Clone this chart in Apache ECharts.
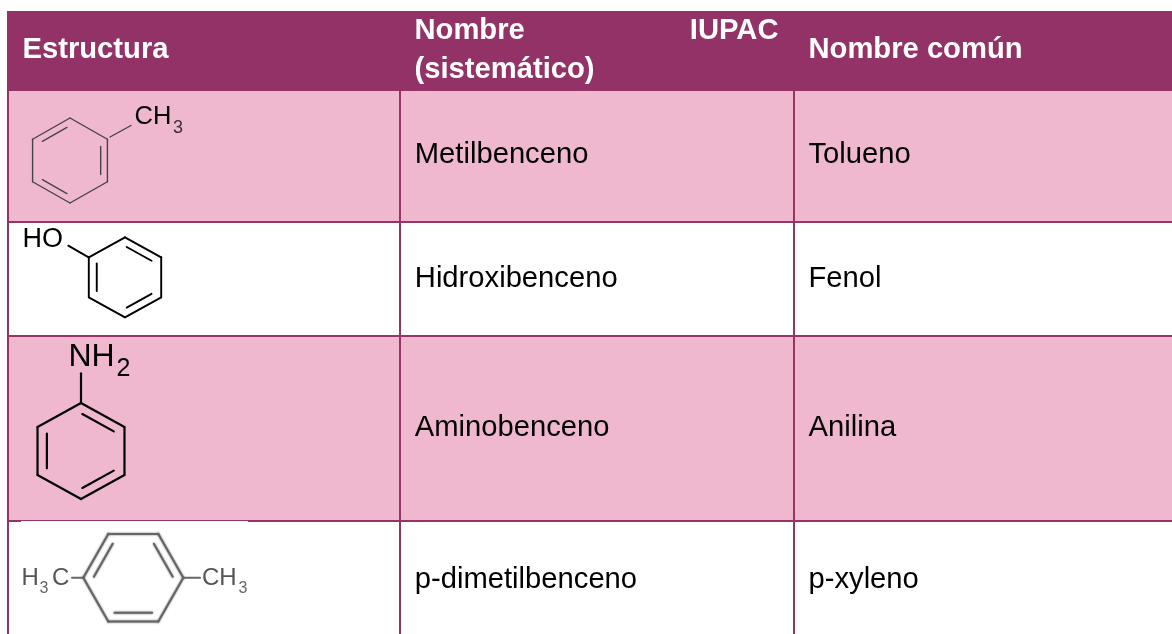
<!DOCTYPE html>
<html><head><meta charset="utf-8">
<style>html,body{margin:0;padding:0;background:#fff}#c{width:1172px;height:634px}</style>
<script src="https://cdn.jsdelivr.net/npm/echarts@6/dist/echarts.min.js"></script>
</head><body><div id="c"></div>
<script>
const headerStructure = 'Estructura';
const headerIupacWords = ['Nombre', 'IUPAC', '(sistemático)'];
const headerCommon = 'Nombre común';
const iupacNames = ['Metilbenceno', 'Hidroxibenceno', 'Aminobenceno', 'p-dimetilbenceno'];
const commonNames = ['Tolueno', 'Fenol', 'Anilina', 'p-xyleno'];
const rowIndices = [0, 1, 2, 3];

const FONT = '"Liberation Sans", Arial, sans-serif';
const WINE = '#933266', PINK = '#EFB8CF', RULE = '#993366';
const rowTop = [91, 221, 335, 520], rowBottom = [221, 335, 520, 640];
const rowFill = [PINK, '#fff', PINK, '#fff'];
const colX = [7, 399, 793], W = 1172, H = 634;
const rowTextY = [154.5, 278.5, 428, 579.6];

function txt(x, y, text, font, fill, align) {
  return {type:'text', style:{x, y, text, font, fill, align:align||'left', verticalAlign:'middle'}};
}
function seg(a, b, stroke, lw, extra) {
  return {type:'line', shape:{x1:a[0], y1:a[1], x2:b[0], y2:b[1]},
    style:Object.assign({stroke, lineWidth:lw, lineCap:'round'}, extra||{})};
}
const POINT_UP = [[0,-1],[.866,-.5],[.866,.5],[0,1],[-.866,.5],[-.866,-.5]];
const FLAT = [[-1,0],[-.5,-.866],[.5,-.866],[1,0],[.5,.866],[-.5,.866]];
function ring(m) {
  const p = m.unit.map(u => [m.cx + u[0]*m.rx, m.cy + u[1]*m.ry]);
  const out = [];
  const extra = m.blur ? {shadowBlur:m.blur, shadowColor:m.color} : null;
  p.forEach((a, i) => out.push(seg(a, p[(i+1)%6], m.color, m.lw, extra)));
  m.doubles.forEach(i => {
    const a = p[i], b = p[(i+1)%6];
    const sh = (q, r) => [q[0]+(r[0]-q[0])*m.t, q[1]+(r[1]-q[1])*m.t];
    const toC = q => [m.cx+(q[0]-m.cx)*m.k, m.cy+(q[1]-m.cy)*m.k];
    out.push(seg(toC(sh(a,b)), toC(sh(b,a)), m.color, m.lw, extra));
  });
  return out;
}
const molecules = [
  () => [...ring({cx:70,cy:160.5,rx:43.2,ry:42.5,unit:POINT_UP,doubles:[5,1,3],k:.82,t:.1,color:'#444',lw:1.4}),
    seg([110,137],[131,125.5],'#444',1.4),
    txt(134.5,117.3,'CH','25.5px '+FONT,'#000'), txt(173,128.2,'3','18px '+FONT,'#333')],
  () => [...ring({cx:125,cy:277.3,rx:41.8,ry:40,unit:POINT_UP,doubles:[0,2,4],k:.78,t:.06,color:'#000',lw:1.9}),
    seg([68.3,245.7],[88.7,257.3],'#000',1.9),
    txt(22.5,239.2,'HO','27px '+FONT,'#000')],
  () => [...ring({cx:81,cy:451,rx:50.2,ry:48,unit:POINT_UP,doubles:[0,2,4],k:.785,t:.04,color:'#000',lw:2.2}),
    seg([81,373.3],[81,403.3],'#000',2.2),
    txt(68.5,357,'NH','32px '+FONT,'#000'), txt(116.5,369.2,'2','25px '+FONT,'#000')],
  () => [{type:'rect',shape:{x:21,y:521,width:227,height:113},style:{fill:'#fff'}},
    ...ring({cx:133.3,cy:577.7,rx:50,ry:50.6,unit:FLAT,doubles:[0,2,4],k:.8,t:.03,color:'#666',lw:2,blur:2}),
    seg([72,577.7],[83.3,577.7],'#666',2), seg([183.3,577.7],[200,577.7],'#666',2),
    txt(21.5,578.8,'H','24px '+FONT,'#555'), txt(39.5,588.5,'3','16px '+FONT,'#666'), txt(52,578.8,'C','24px '+FONT,'#555'),
    txt(202,578.8,'CH','24px '+FONT,'#555'), txt(238.5,588.5,'3','16px '+FONT,'#666'),
    {type:'rect',shape:{x:248,y:560,width:12,height:40},style:{fill:'#fff'}}]
];

const body = '29.2px ' + FONT, bold = 'bold 29.2px ' + FONT;
function headerGroup() {
  return [
    {type:'rect',shape:{x:7,y:11,width:W-7,height:80},style:{fill:WINE}},
    txt(22.5,50,headerStructure,bold,'#fff'),
    txt(414.5,30.5,headerIupacWords[0],bold,'#fff'),
    txt(778.5,30.5,headerIupacWords[1],bold,'#fff','right'),
    txt(414.5,69.5,headerIupacWords[2],bold,'#fff'),
    txt(808.5,49.6,headerCommon,bold,'#fff')
  ];
}
function rowGroup(i) {
  const t = rowTop[i], b = Math.min(rowBottom[i], H);
  const fill = {type:'rect',shape:{x:7,y:t,width:W-7,height:b-t},style:{fill:rowFill[i]}};
  const lines = colX.map(x => ({type:'rect',shape:{x,y:t,width:2,height:b-t},style:{fill:RULE}}));
  if (i > 0) lines.push({type:'rect',shape:{x:7,y:t,width:W-7,height:2},style:{fill:RULE}});
  const cy = rowTextY[i];
  return [fill, ...lines,
    txt(414.8, cy, iupacNames[i], body, '#000'),
    txt(808.5, cy, commonNames[i], body, '#000'),
    ...molecules[i]()];
}

const chart = echarts.init(document.getElementById('c'), null, {renderer:'canvas'});
chart.setOption({
  animation:false,
  backgroundColor:'#fff',
  series:[
    {type:'custom',coordinateSystem:'none',silent:true,z:1,data:[0],
     renderItem:()=>({type:'group',children:headerGroup()})},
    {type:'custom',coordinateSystem:'none',silent:true,z:2,data:rowIndices.slice(),
     renderItem:(p,api)=>({type:'group',children:rowGroup(api.value(0))})}
  ]
});
</script></body></html>
